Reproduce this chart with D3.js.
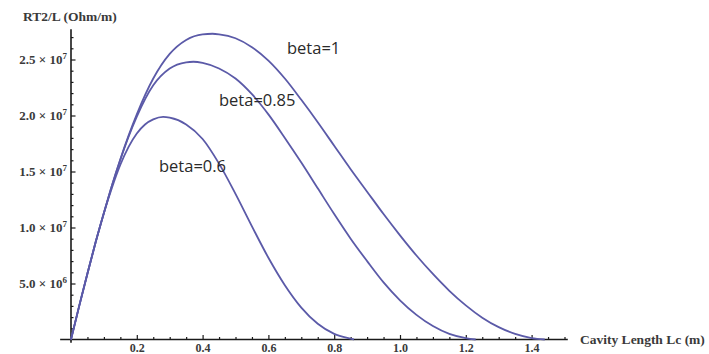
<!DOCTYPE html>
<html>
<head>
<meta charset="utf-8">
<script src="https://cdnjs.cloudflare.com/ajax/libs/d3/7.8.5/d3.min.js"></script>
<style>
  html, body { margin: 0; padding: 0; background: #fff; }
  svg { display: block; }
  .tick text { font-family: "Liberation Serif", "DejaVu Serif", serif; font-weight: bold; font-size: 12px; fill: #3a3a3a; }
  .axis-title { font-family: "Liberation Serif", "DejaVu Serif", serif; font-weight: bold; font-size: 13.5px; fill: #3a3a3a; }
  .curve-label { font-family: "Open Sans", "Noto Sans", sans-serif; font-size: 16.5px; fill: #2a2a2a; }
</style>
</head>
<body>
<svg id="chart" width="709" height="354"></svg>
<script>
// Cavity length Lc (m) and RT2/L (Ohm/m, in units of 1e6) for each beta
const lengthBeta1 = [0, 0.025, 0.05, 0.075, 0.1, 0.125, 0.15, 0.175, 0.2, 0.25, 0.3, 0.35, 0.4, 0.43, 0.45, 0.5, 0.55, 0.6, 0.65, 0.7, 0.75, 0.8, 0.85, 0.9, 0.95, 1.0, 1.05, 1.1, 1.15, 1.2, 1.25, 1.3, 1.35, 1.4, 1.44];
const valuesBeta1 = [0, 3.0, 5.9, 8.7, 11.3, 13.8, 16.1, 18.2, 20.1, 23.3, 25.5, 26.75, 27.25, 27.3, 27.25, 26.9, 26.1, 24.9, 23.3, 21.4, 19.4, 17.3, 15.2, 13.2, 11.2, 9.3, 7.5, 5.85, 4.35, 3.05, 1.95, 1.1, 0.5, 0.13, 0];

const lengthBeta085 = [0, 0.025, 0.05, 0.075, 0.1, 0.125, 0.15, 0.175, 0.2, 0.25, 0.3, 0.35, 0.372, 0.4, 0.45, 0.5, 0.55, 0.6, 0.65, 0.7, 0.75, 0.8, 0.85, 0.9, 0.95, 1.0, 1.05, 1.1, 1.15, 1.2, 1.23];
const valuesBeta085 = [0, 3.0, 5.9, 8.7, 11.3, 13.8, 16.05, 18.1, 19.9, 22.7, 24.2, 24.75, 24.8, 24.7, 24.2, 23.3, 21.9, 20.1, 18.0, 15.8, 13.5, 11.2, 9.0, 7.0, 5.1, 3.5, 2.2, 1.2, 0.5, 0.12, 0];

const lengthBeta06 = [0, 0.025, 0.05, 0.075, 0.1, 0.125, 0.15, 0.175, 0.2, 0.225, 0.25, 0.28, 0.3, 0.35, 0.4, 0.45, 0.5, 0.55, 0.6, 0.65, 0.7, 0.75, 0.8, 0.85, 0.86];
const valuesBeta06 = [0, 3.0, 5.9, 8.7, 11.3, 13.6, 15.6, 17.2, 18.4, 19.2, 19.65, 19.87, 19.8, 19.2, 17.9, 15.7, 13.0, 10.1, 7.3, 4.85, 2.85, 1.4, 0.5, 0.07, 0];

const seriesNames = ["beta=1", "beta=0.85", "beta=0.6"];
const xTickValues = [0.2, 0.4, 0.6, 0.8, 1.0, 1.2, 1.4];
const yTickValues = [5e6, 1e7, 1.5e7, 2e7, 2.5e7];
const yTickMantissa = ["5.0", "1.0", "1.5", "2.0", "2.5"];
const yTickExponent = ["6", "7", "7", "7", "7"];

const svg = d3.select("#chart");
const x = d3.scaleLinear().domain([0, 1.0]).range([71, 400]);
const y = d3.scaleLinear().domain([0, 2.5e7]).range([339.5, 59.5]);

const lineColor = "#5b5aa8";
const axisColor = "#1a1a1a";

// Axis lines
svg.append("line")
  .attr("x1", x(-0.033)).attr("x2", x(1.51))
  .attr("y1", y(0)).attr("y2", y(0))
  .attr("stroke", axisColor).attr("stroke-width", 1.6);
svg.append("line")
  .attr("x1", x(0)).attr("x2", x(0))
  .attr("y1", y(-0.3e6)).attr("y2", y(2.77e7))
  .attr("stroke", axisColor).attr("stroke-width", 1.6);

// X axis ticks (pointing up into the plot)
const minorX = d3.range(1, 31).map(i => i * 0.05).filter(v => Math.abs(v * 5 - Math.round(v * 5)) > 1e-6);
const gx = svg.append("g").attr("transform", `translate(0,${y(0)})`);
gx.append("g")
  .call(d3.axisBottom(x).tickValues(minorX).tickSize(-2.5).tickFormat(""))
  .call(g => g.select(".domain").remove())
  .call(g => g.selectAll("line").attr("stroke", axisColor).attr("stroke-width", 1.2));
gx.append("g")
  .call(d3.axisBottom(x).tickValues(xTickValues).tickSize(-4.5).tickPadding(4).tickFormat(d3.format(".1f")))
  .call(g => g.select(".domain").remove())
  .call(g => g.selectAll("line").attr("stroke", axisColor).attr("stroke-width", 1.2))
  .call(g => g.selectAll("text").attr("font-family", null).attr("font-size", null));

// Y axis ticks (pointing right into the plot)
const minorY = d3.range(1, 28).map(i => i * 1e6).filter(v => v % 5e6 !== 0);
const gy = svg.append("g").attr("transform", `translate(${x(0)},0)`);
gy.append("g")
  .call(d3.axisLeft(y).tickValues(minorY).tickSize(-2.5).tickFormat(""))
  .call(g => g.select(".domain").remove())
  .call(g => g.selectAll("line").attr("stroke", axisColor).attr("stroke-width", 1.2));
gy.append("g")
  .call(d3.axisLeft(y).tickValues(yTickValues).tickSize(-4.5).tickFormat(""))
  .call(g => g.select(".domain").remove())
  .call(g => g.selectAll("line").attr("stroke", axisColor).attr("stroke-width", 1.2));

// Y tick labels in scientific notation
const yLabels = svg.append("g");
yTickValues.forEach((v, i) => {
  const t = yLabels.append("text")
    .attr("x", x(0) - 4)
    .attr("y", y(v) + 4.5)
    .attr("text-anchor", "end")
    .attr("font-family", "Liberation Serif, DejaVu Serif, serif")
    .attr("font-weight", "bold")
    .attr("font-size", 13)
    .attr("fill", "#3a3a3a");
  t.append("tspan").text(yTickMantissa[i] + " \u00d7 10");
  t.append("tspan").attr("dy", -5.5).attr("font-size", 9).text(yTickExponent[i]);
});

// Axis titles
svg.append("text").attr("class", "axis-title")
  .attr("x", 23).attr("y", 21).text("RT2/L (Ohm/m)");
svg.append("text").attr("class", "axis-title")
  .attr("x", 580).attr("y", 344).text("Cavity Length Lc (m)");

// Curves
const line = d3.line()
  .x(d => x(d[0]))
  .y(d => y(d[1] * 1e6))
  .curve(d3.curveMonotoneX);

const curves = [
  d3.zip(lengthBeta1, valuesBeta1),
  d3.zip(lengthBeta085, valuesBeta085),
  d3.zip(lengthBeta06, valuesBeta06)
];

svg.append("g").selectAll("path")
  .data(curves)
  .join("path")
  .attr("d", line)
  .attr("fill", "none")
  .attr("stroke", lineColor)
  .attr("stroke-width", 1.8)
  .attr("stroke-linejoin", "round");

// Curve labels
const labelPos = [[287, 54], [219, 106], [159, 172]];
svg.append("g").selectAll("text")
  .data(seriesNames)
  .join("text")
  .attr("class", "curve-label")
  .attr("x", (d, i) => labelPos[i][0])
  .attr("y", (d, i) => labelPos[i][1])
  .text(d => d);
</script>
</body>
</html>
